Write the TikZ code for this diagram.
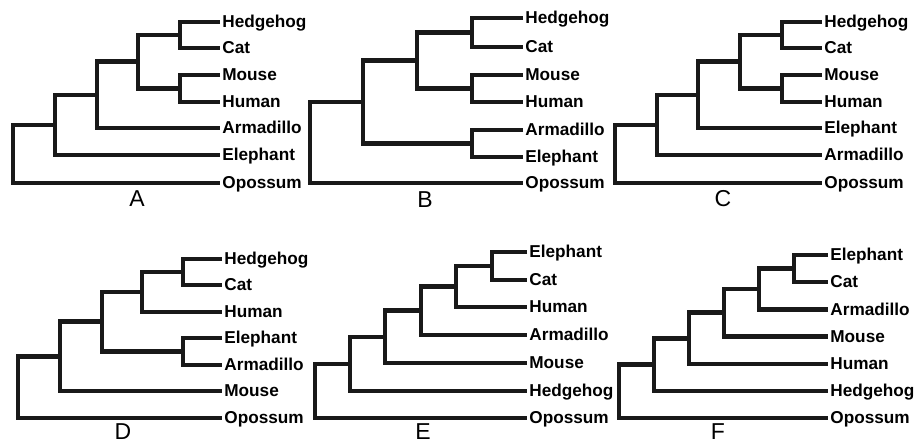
\documentclass[tikz,border=0pt]{standalone}
\usepackage{fontspec}
\setmainfont{Liberation Sans}
\usepackage{tikz}

\begin{document}
\begin{tikzpicture}[
    x=0.5pt, y=-0.5pt,
    leaf/.style={anchor=west, inner sep=1pt, font=\bfseries\fontsize{8.6}{10}\selectfont, text height=6pt, text depth=0pt},
    branch/.style={line width=2.3pt, line join=miter, black!90},
    panel/.style={inner sep=0pt, font=\fontsize{11.5}{12}\selectfont}
]
\useasboundingbox (0,0) rectangle (921,442);

% Tree A
\foreach \n/\y in {Hedgehog/22, Cat/48, Mouse/75, Human/102, Armadillo/128, Elephant/155, Opossum/183}
    \node[leaf] (A-\n) at (220,\y) {\n};
\coordinate (A1) at (180,35);
\coordinate (A2) at (180,88.5);
\coordinate (A3) at (138,61.75);
\coordinate (A4) at (97,94.9);
\coordinate (A5) at (55,125);
\coordinate (A6) at (13,154);
\draw[branch] (A-Hedgehog.west) -| (A1) |- (A-Cat.west);
\draw[branch] (A-Mouse.west) -| (A2) |- (A-Human.west);
\draw[branch] (A1) -| (A3) |- (A2);
\draw[branch] (A3) -| (A4) |- (A-Armadillo.west);
\draw[branch] (A4) -| (A5) |- (A-Elephant.west);
\draw[branch] (A5) -| (A6) |- (A-Opossum.west);
\node[panel] (labA) at (137,199) {A};

% Tree B
\foreach \n/\y in {Hedgehog/18, Cat/47, Mouse/75, Human/102, Armadillo/130, Elephant/157, Opossum/183}
    \node[leaf] (B-\n) at (523,\y) {\n};
\coordinate (B1) at (472,32.5);
\coordinate (B2) at (472,88.5);
\coordinate (B3) at (472,143.5);
\coordinate (B4) at (417,60.5);
\coordinate (B5) at (363,102);
\coordinate (B6) at (310,142.5);
\draw[branch] (B-Hedgehog.west) -| (B1) |- (B-Cat.west);
\draw[branch] (B-Mouse.west) -| (B2) |- (B-Human.west);
\draw[branch] (B-Armadillo.west) -| (B3) |- (B-Elephant.west);
\draw[branch] (B1) -| (B4) |- (B2);
\draw[branch] (B4) -| (B5) |- (B3);
\draw[branch] (B5) -| (B6) |- (B-Opossum.west);
\node[panel] (labB) at (425,200) {B};

% Tree C
\foreach \n/\y in {Hedgehog/22, Cat/48, Mouse/75, Human/102, Elephant/128, Armadillo/155, Opossum/183}
    \node[leaf] (C-\n) at (822,\y) {\n};
\coordinate (C1) at (782,35);
\coordinate (C2) at (782,88.5);
\coordinate (C3) at (740,61.75);
\coordinate (C4) at (698,94.9);
\coordinate (C5) at (657,125);
\coordinate (C6) at (615,154);
\draw[branch] (C-Hedgehog.west) -| (C1) |- (C-Cat.west);
\draw[branch] (C-Mouse.west) -| (C2) |- (C-Human.west);
\draw[branch] (C1) -| (C3) |- (C2);
\draw[branch] (C3) -| (C4) |- (C-Elephant.west);
\draw[branch] (C4) -| (C5) |- (C-Armadillo.west);
\draw[branch] (C5) -| (C6) |- (C-Opossum.west);
\node[panel] (labC) at (723,199) {C};

% Tree D
\foreach \n/\y in {Hedgehog/259, Cat/285, Human/312, Elephant/338, Armadillo/365, Mouse/391, Opossum/418}
    \node[leaf] (D-\n) at (222,\y) {\n};
\coordinate (D1) at (183,272);
\coordinate (D2) at (183,351.5);
\coordinate (D3) at (142,292);
\coordinate (D4) at (102,321.75);
\coordinate (D5) at (60,356.4);
\coordinate (D6) at (18,387);
\draw[branch] (D-Hedgehog.west) -| (D1) |- (D-Cat.west);
\draw[branch] (D-Elephant.west) -| (D2) |- (D-Armadillo.west);
\draw[branch] (D1) -| (D3) |- (D-Human.west);
\draw[branch] (D3) -| (D4) |- (D2);
\draw[branch] (D4) -| (D5) |- (D-Mouse.west);
\draw[branch] (D5) -| (D6) |- (D-Opossum.west);
\node[panel] (labD) at (123,432) {D};

% Tree E
\foreach \n/\y in {Elephant/252, Cat/280, Human/307, Armadillo/335, Mouse/363, Hedgehog/391, Opossum/418}
    \node[leaf] (E-\n) at (527,\y) {\n};
\coordinate (E1) at (492,266);
\coordinate (E2) at (456,286.5);
\coordinate (E3) at (421,310.75);
\coordinate (E4) at (385,336.9);
\coordinate (E5) at (350,363.9);
\coordinate (E6) at (315,391);
\draw[branch] (E-Elephant.west) -| (E1) |- (E-Cat.west);
\draw[branch] (E1) -| (E2) |- (E-Human.west);
\draw[branch] (E2) -| (E3) |- (E-Armadillo.west);
\draw[branch] (E3) -| (E4) |- (E-Mouse.west);
\draw[branch] (E4) -| (E5) |- (E-Hedgehog.west);
\draw[branch] (E5) -| (E6) |- (E-Opossum.west);
\node[panel] (labE) at (423,432) {E};

% Tree F
\foreach \n/\y in {Elephant/255, Cat/282, Armadillo/309.5, Mouse/336.5, Human/364, Hedgehog/391, Opossum/418}
    \node[leaf] (F-\n) at (828,\y) {\n};
\coordinate (F1) at (794,268.5);
\coordinate (F2) at (759,289);
\coordinate (F3) at (724,312.75);
\coordinate (F4) at (689,338.4);
\coordinate (F5) at (654,364.7);
\coordinate (F6) at (619,391);
\draw[branch] (F-Elephant.west) -| (F1) |- (F-Cat.west);
\draw[branch] (F1) -| (F2) |- (F-Armadillo.west);
\draw[branch] (F2) -| (F3) |- (F-Mouse.west);
\draw[branch] (F3) -| (F4) |- (F-Human.west);
\draw[branch] (F4) -| (F5) |- (F-Hedgehog.west);
\draw[branch] (F5) -| (F6) |- (F-Opossum.west);
\node[panel] (labF) at (718,432) {F};

\end{tikzpicture}
\end{document}
